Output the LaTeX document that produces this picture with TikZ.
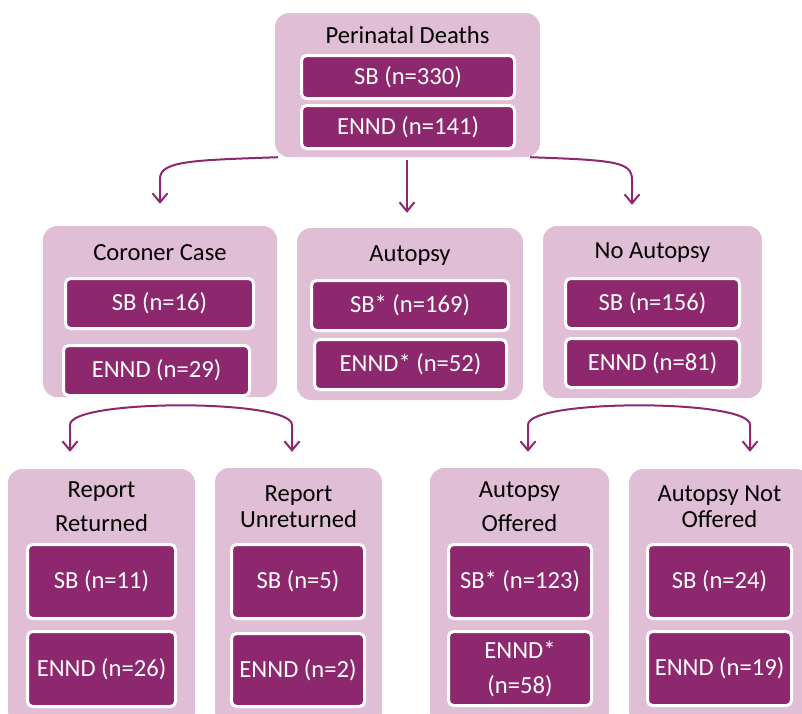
\documentclass[tikz,border=0pt]{standalone}
\usepackage{fontspec}
\setmainfont{Carlito}
\usetikzlibrary{arrows.meta}
\definecolor{plum}{HTML}{8E286E}
\definecolor{lilac}{HTML}{E0BED6}

\begin{document}
\begin{tikzpicture}[x=1pt,y=-1pt,
    group/.style={fill=lilac, rounded corners=14pt, inner sep=0pt},
    count/.style={fill=plum, draw=white, line width=3pt, rounded corners=5pt, text=white,
      inner sep=0pt, align=center, font=\fontsize{24.6}{35}\selectfont},
    heading/.style={align=center, inner sep=0pt, font=\fontsize{24.6}{34}\selectfont},
    tight/.style={heading, font=\fontsize{24.6}{26}\selectfont},
    flow/.style={draw=plum, line width=2pt, -{Straight Barb[length=9pt,width=15pt]}},
    split/.style={draw=plum, line width=2pt, {Straight Barb[length=9pt,width=15pt]}-{Straight Barb[length=9pt,width=15pt]}}]
    \useasboundingbox (0,0) rectangle (802,713);

    \node[group, minimum width=265pt, minimum height=144pt] (pd) at (407.5,85) {};
    \node[heading] (pd-t) at (407.5,35) {Perinatal Deaths};
    \node[count, minimum width=213pt, minimum height=43pt] (pd-sb) at (408,77) {SB (n=330)};
    \node[count, minimum width=213pt, minimum height=43pt] (pd-en) at (408,127) {ENND (n=141)};

    \node[group, minimum width=234pt, minimum height=171pt] (cc) at (160,311.5) {};
    \node[heading] (cc-t) at (160,253) {Coroner Case};
    \node[count, minimum width=188pt, minimum height=50pt] (cc-sb) at (159.5,303.5) {SB (n=16)};
    \node[count, minimum width=186pt, minimum height=50pt] (cc-en) at (156.5,370.5) {ENND (n=29)};

    \node[group, minimum width=226pt, minimum height=172pt] (ap) at (410,314) {};
    \node[heading] (ap-t) at (410,256) {Autopsy};
    \node[count, minimum width=197pt, minimum height=50pt] (ap-sb) at (410,305.5) {SB* (n=169)};
    \node[count, minimum width=192pt, minimum height=50pt] (ap-en) at (410.5,364.5) {ENND* (n=52)};

    \node[group, minimum width=219pt, minimum height=172pt] (na) at (652.5,312) {};
    \node[heading] (na-t) at (652.5,253) {No Autopsy};
    \node[count, minimum width=174pt, minimum height=50pt] (na-sb) at (652.5,303.5) {SB (n=156)};
    \node[count, minimum width=174pt, minimum height=49pt] (na-en) at (652.5,363) {ENND (n=81)};

    \node[group, minimum width=187pt, minimum height=256pt] (rr) at (101.5,597) {};
    \node[heading] (rr-t) at (101.5,507) {Report\\Returned};
    \node[count, minimum width=148pt, minimum height=74pt] (rr-sb) at (101.5,581.5) {SB (n=11)};
    \node[count, minimum width=148pt, minimum height=75pt] (rr-en) at (101.5,669) {ENND (n=26)};

    \node[group, minimum width=167pt, minimum height=257pt] (ru) at (298.5,596.5) {};
    \node[tight] (ru-t) at (298.5,507) {Report\\Unreturned};
    \node[count, minimum width=133pt, minimum height=74pt] (ru-sb) at (298,581.5) {SB (n=5)};
    \node[count, minimum width=133pt, minimum height=73pt] (ru-en) at (298,670) {ENND (n=2)};

    \node[group, minimum width=179pt, minimum height=257pt] (ao) at (519.5,596.5) {};
    \node[heading] (ao-t) at (519.5,507) {Autopsy\\Offered};
    \node[count, minimum width=143pt, minimum height=74pt] (ao-sb) at (520,581.5) {SB* (n=123)};
    \node[count, minimum width=143pt, minimum height=74pt] (ao-en) at (520,668.5) {ENND*\\(n=58)};

    \node[group, minimum width=181pt, minimum height=256pt] (ano) at (719.5,597) {};
    \node[tight] (ano-t) at (719.5,507) {Autopsy Not\\Offered};
    \node[count, minimum width=144pt, minimum height=74pt] (ano-sb) at (719.5,581.5) {SB (n=24)};
    \node[count, minimum width=144pt, minimum height=74pt] (ano-en) at (719.5,668.5) {ENND (n=19)};

    \draw[flow] ([xshift=3pt]pd.south west) .. controls +(-85,3) and +(0,-18) .. ([yshift=47pt]cc.north) -- ([yshift=22pt]cc.north);
    \draw[flow] ([xshift=-0.5pt,yshift=-3pt]pd.south) -- ([xshift=-3pt,yshift=15pt]ap.north);
    \draw[flow] ([xshift=-10pt]pd.south east) .. controls +(85,3) and +(0,-18) .. ([xshift=-20.5pt,yshift=46pt]na.north) -- ([xshift=-20.5pt,yshift=21pt]na.north);

    \draw[split] ([xshift=-31.5pt,yshift=17pt]rr.north) -- ([xshift=-31.5pt,yshift=44pt]rr.north)
      to[out=90,in=90,looseness=0.3] ([xshift=-6.5pt,yshift=43pt]ru.north) -- ([xshift=-6.5pt,yshift=16pt]ru.north);
    \draw[split] ([xshift=8.5pt,yshift=16pt]ao.north) -- ([xshift=8.5pt,yshift=43pt]ao.north)
      to[out=90,in=90,looseness=0.3] ([xshift=30.5pt,yshift=44pt]ano.north) -- ([xshift=30.5pt,yshift=17pt]ano.north);
\end{tikzpicture}
\end{document}
